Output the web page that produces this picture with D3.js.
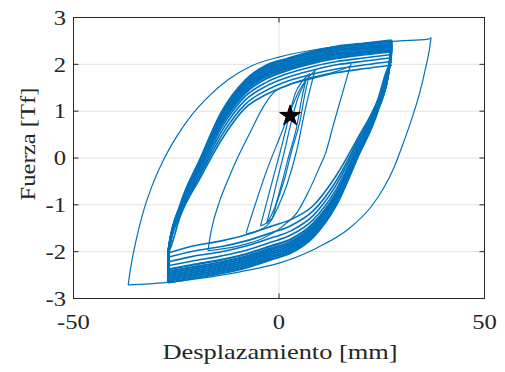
<!DOCTYPE html>
<html>
<head>
<meta charset="utf-8">
<script src="https://cdn.jsdelivr.net/npm/d3@7"></script>
<style>
  body { margin: 0; background: #fff; }
  svg { display: block; }
  text { font-family: "Liberation Serif", "Times New Roman", serif; fill: #262626; }
</style>
</head>
<body>
<svg id="chart" width="505" height="372"></svg>
<script>
// ---- axis ticks ----
const xTicks = [-50, 0, 50];
const yTicks = [-3, -2, -1, 0, 1, 2, 3];

// ---- largest cycle (about +-37 mm) ----
const outerLoadX = [-36.7, -36.0, -34.8, -33.1, -30.9, -28.2, -25.1, -21.4, -17.3, -12.4, -6.6, 0.2, 10.0, 19.7, 29.4, 36.3, 37.0];
const outerLoadF = [-2.71, -2.30, -1.77, -1.17, -0.60, -0.06, 0.43, 0.90, 1.30, 1.67, 1.97, 2.16, 2.33, 2.44, 2.50, 2.54, 2.57];
const outerUnloadX = [37.0, 36.6, 35.6, 34.2, 32.2, 30.0, 27.9, 25.4, 22.5, 17.3, 9.2, 0.2, -9.5, -19.2, -27.7, -36.7];
const outerUnloadF = [2.57, 2.32, 1.89, 1.38, 0.81, 0.26, -0.22, -0.65, -1.03, -1.49, -1.92, -2.24, -2.43, -2.57, -2.66, -2.71];

// ---- repeated +-27 mm cycles ----
// loading branches: displacement stations, force at each station (row = station, column = cycle)
const cycLoadX = [-27, -26.8, -24.0, -19.2, -13.9, -8.3, -3, 2, 8, 14, 21, 27.4];
const cycLoadF = [
  [-2.66, -2.62, -2.58, -2.54, -2.50, -2.46, -2.42, -2.38, -2.30, -2.22, -2.12, -2.03],
  [-1.92, -1.92, -1.93, -1.93, -1.94, -1.94, -1.95, -1.95, -1.96, -1.97, -1.99, -2.00],
  [-1.00, -1.02, -1.03, -1.05, -1.06, -1.08, -1.09, -1.11, -1.14, -1.17, -1.21, -1.24],
  [-0.03, -0.06, -0.08, -0.11, -0.13, -0.16, -0.18, -0.21, -0.26, -0.32, -0.37, -0.43],
  [ 0.99,  0.95,  0.92,  0.88,  0.84,  0.81,  0.77,  0.73,  0.66,  0.58,  0.49,  0.40],
  [ 1.65,  1.61,  1.58,  1.54,  1.50,  1.46,  1.43,  1.38,  1.31,  1.23,  1.14,  1.06],
  [ 1.98,  1.94,  1.90,  1.86,  1.82,  1.79,  1.75,  1.70,  1.62,  1.54,  1.45,  1.36],
  [ 2.12,  2.09,  2.05,  2.01,  1.98,  1.94,  1.91,  1.87,  1.80,  1.72,  1.64,  1.55],
  [ 2.27,  2.24,  2.20,  2.16,  2.13,  2.09,  2.06,  2.02,  1.95,  1.87,  1.79,  1.70],
  [ 2.38,  2.35,  2.31,  2.28,  2.24,  2.21,  2.17,  2.13,  2.06,  1.99,  1.90,  1.82],
  [ 2.45,  2.42,  2.38,  2.35,  2.32,  2.28,  2.25,  2.21,  2.14,  2.07,  1.99,  1.91],
  [ 2.51,  2.48,  2.44,  2.41,  2.38,  2.35,  2.31,  2.27,  2.21,  2.14,  2.06,  1.98]
];
// unloading branches
const cycUnloadX = [27.4, 26.8, 24.0, 19.2, 13.9, 8.3, 3, -2, -8, -14, -21, -27];
const cycUnloadF = [
  [ 2.51,  2.48,  2.44,  2.41,  2.38,  2.35,  2.31,  2.27,  2.21,  2.14,  2.06,  1.98],
  [ 1.92,  1.92,  1.93,  1.93,  1.94,  1.94,  1.95,  1.95,  1.96,  1.97,  1.97,  1.96],
  [ 1.00,  1.02,  1.03,  1.05,  1.06,  1.08,  1.09,  1.11,  1.14,  1.17,  1.21,  1.24],
  [ 0.03,  0.06,  0.08,  0.11,  0.13,  0.16,  0.18,  0.21,  0.26,  0.32,  0.37,  0.43],
  [-1.01, -0.97, -0.94, -0.90, -0.86, -0.83, -0.79, -0.75, -0.67, -0.58, -0.49, -0.38],
  [-1.69, -1.65, -1.61, -1.57, -1.53, -1.49, -1.45, -1.40, -1.32, -1.23, -1.13, -1.02],
  [-2.02, -1.98, -1.94, -1.90, -1.86, -1.82, -1.78, -1.73, -1.64, -1.55, -1.44, -1.31],
  [-2.17, -2.13, -2.09, -2.05, -2.01, -1.97, -1.93, -1.88, -1.80, -1.71, -1.60, -1.46],
  [-2.34, -2.30, -2.26, -2.22, -2.18, -2.14, -2.10, -2.05, -1.97, -1.88, -1.77, -1.64],
  [-2.46, -2.42, -2.38, -2.34, -2.30, -2.26, -2.22, -2.17, -2.09, -2.00, -1.89, -1.77],
  [-2.57, -2.53, -2.49, -2.45, -2.41, -2.37, -2.33, -2.28, -2.20, -2.10, -1.99, -1.88],
  [-2.66, -2.62, -2.58, -2.54, -2.50, -2.46, -2.42, -2.38, -2.30, -2.22, -2.12, -2.03]
];

// ---- smaller cycles inside ----
const loopALoadX = [-17.3, -16.6, -14.4, -12.2, -10.0, -7.0, -3.9, -1.5, 2.0, 8.0, 14.0, 17.6];
const loopALoadF = [-1.98, -1.60, -0.91, -0.42, 0.02, 0.55, 1.08, 1.38, 1.55, 1.72, 1.85, 1.97];
const loopAUnloadX = [17.6, 17.3, 16.8, 15.0, 13.2, 11.4, 9.5, 7.0, 4.4, 1.0, -4.0, -10.0, -17.3];
const loopAUnloadF = [2.02, 1.95, 1.80, 1.25, 0.70, 0.12, -0.27, -0.75, -1.16, -1.45, -1.72, -1.88, -1.98];

const loopBLoadX = [-8.0, -6.0, -3.0, 0.0, 2.5, 5.0, 8.5];
const loopBLoadF = [-1.60, -1.05, -0.27, 0.40, 0.95, 1.45, 1.85];
const loopBUnloadX = [8.8, 7.8, 6.3, 4.3, 2.0, 0.0, -2.0, -5.0, -8.0];
const loopBUnloadF = [1.88, 1.55, 1.00, 0.16, -0.55, -1.00, -1.35, -1.55, -1.62];

const loopCLoadX = [-4.5, -3.4, -1.5, 0.5, 2.2, 3.9, 5.5, 7.5];
const loopCLoadF = [-1.45, -1.08, -0.45, 0.20, 0.80, 1.37, 1.62, 1.80];
const loopCUnloadX = [7.5, 6.5, 5.0, 3.1, 1.5, -0.5, -1.7, -4.5];
const loopCUnloadF = [1.80, 1.45, 0.75, 0.16, -0.40, -0.95, -1.29, -1.45];

const loopDLoadX = [-3.0, -2.0, -0.5, 1.2, 2.8, 4.3, 6.5];
const loopDLoadF = [-1.40, -1.05, -0.50, 0.10, 0.70, 1.20, 1.65];
const loopDUnloadX = [6.5, 5.6, 4.2, 2.4, 0.8, -1.0, -3.0];
const loopDUnloadF = [1.65, 1.30, 0.62, 0.05, -0.50, -1.05, -1.40];

// marked point
const starX = [2.7];
const starF = [0.9];

// ---- layout ----
const svg = d3.select("#chart");
const x = d3.scaleLinear().domain([-50, 50]).range([73.5, 484.5]);
const y = d3.scaleLinear().domain([-3, 3]).range([298.5, 17.5]);
const blue = "#0072bd";
const axisColor = "#262626";
const labelStretch = 1.2;   // serif labels are drawn a little wide

// grid
svg.append("g").selectAll("line").data(xTicks).join("line")
  .attr("x1", d => x(d)).attr("x2", d => x(d))
  .attr("y1", y(-3)).attr("y2", y(3))
  .attr("stroke", "#e1e1e1").attr("stroke-width", 1);
svg.append("g").selectAll("line").data(yTicks).join("line")
  .attr("x1", x(-50)).attr("x2", x(50))
  .attr("y1", d => y(d)).attr("y2", d => y(d))
  .attr("stroke", "#e1e1e1").attr("stroke-width", 1);

// curves
const line = d3.line().x(d => x(d[0])).y(d => y(d[1])).curve(d3.curveMonotoneX);
const pairs = (xs, fs) => xs.map((v, i) => [v, fs[i]]).sort((a, b) => a[0] - b[0]);

// dense cycles: the stronger ones overlap into a solid band
const dense = [];
d3.transpose(cycLoadF).forEach((col, i) => dense.push({ pts: pairs(cycLoadX, col), w: i < 8 ? 2.2 : 1.6 }));
d3.transpose(cycUnloadF).forEach((col, i) => dense.push({ pts: pairs(cycUnloadX, col), w: i < 8 ? 2.2 : 1.6 }));

const thin = [
  pairs(loopALoadX, loopALoadF), pairs(loopAUnloadX, loopAUnloadF),
  pairs(loopBLoadX, loopBLoadF), pairs(loopBUnloadX, loopBUnloadF),
  pairs(loopCLoadX, loopCLoadF), pairs(loopCUnloadX, loopCUnloadF),
  pairs(loopDLoadX, loopDLoadF), pairs(loopDUnloadX, loopDUnloadF),
  pairs(outerLoadX, outerLoadF), pairs(outerUnloadX, outerUnloadF)
];

const curves = svg.append("g").attr("fill", "none").attr("stroke", blue).attr("stroke-linejoin", "round");
curves.selectAll(".dense").data(dense).join("path").attr("class", "dense")
  .attr("d", d => line(d.pts)).attr("stroke-width", d => d.w);
curves.selectAll(".thin").data(thin).join("path").attr("class", "thin")
  .attr("d", line).attr("stroke-width", 1.2);

// marker
svg.append("g").selectAll("path").data(starX.map((v, i) => [v, starF[i]])).join("path")
  .attr("d", d3.symbol(d3.symbolStar, 135))
  .attr("transform", d => `translate(${x(d[0])},${y(d[1])})`)
  .attr("fill", "#000").attr("stroke", "#000").attr("stroke-width", 1);

// box + ticks
const tl = 5;
const frame = svg.append("g").attr("stroke", axisColor).attr("stroke-width", 1).attr("fill", "none");
frame.append("rect").attr("x", x(-50)).attr("y", y(3)).attr("width", x(50) - x(-50)).attr("height", y(-3) - y(3));
frame.selectAll(".xt").data(xTicks).join("path").attr("class", "xt")
  .attr("d", d => `M${x(d)},${y(-3)}v${-tl}M${x(d)},${y(3)}v${tl}`);
frame.selectAll(".yt").data(yTicks).join("path").attr("class", "yt")
  .attr("d", d => `M${x(-50)},${y(d)}h${tl}M${x(50)},${y(d)}h${-tl}`);

// tick labels
svg.append("g").selectAll("text").data(xTicks).join("text")
  .attr("transform", d => `translate(${x(d)},329) scale(${labelStretch},1)`)
  .attr("text-anchor", "middle").attr("font-size", 20.5)
  .text(d => d);
svg.append("g").selectAll("text").data(yTicks).join("text")
  .attr("transform", d => `translate(66,${y(d)}) scale(${labelStretch},1)`)
  .attr("dy", "0.35em")
  .attr("text-anchor", "end").attr("font-size", 20.5)
  .text(d => d);

// axis titles
svg.append("text")
  .attr("transform", `translate(${x(0) + 1},359) scale(${labelStretch},1)`)
  .attr("text-anchor", "middle").attr("font-size", 22)
  .text("Desplazamiento [mm]");
svg.append("text")
  .attr("transform", `translate(35,144) rotate(-90) scale(1.12,1)`)
  .attr("text-anchor", "middle").attr("font-size", 22)
  .text("Fuerza [Tf]");
</script>
</body>
</html>
